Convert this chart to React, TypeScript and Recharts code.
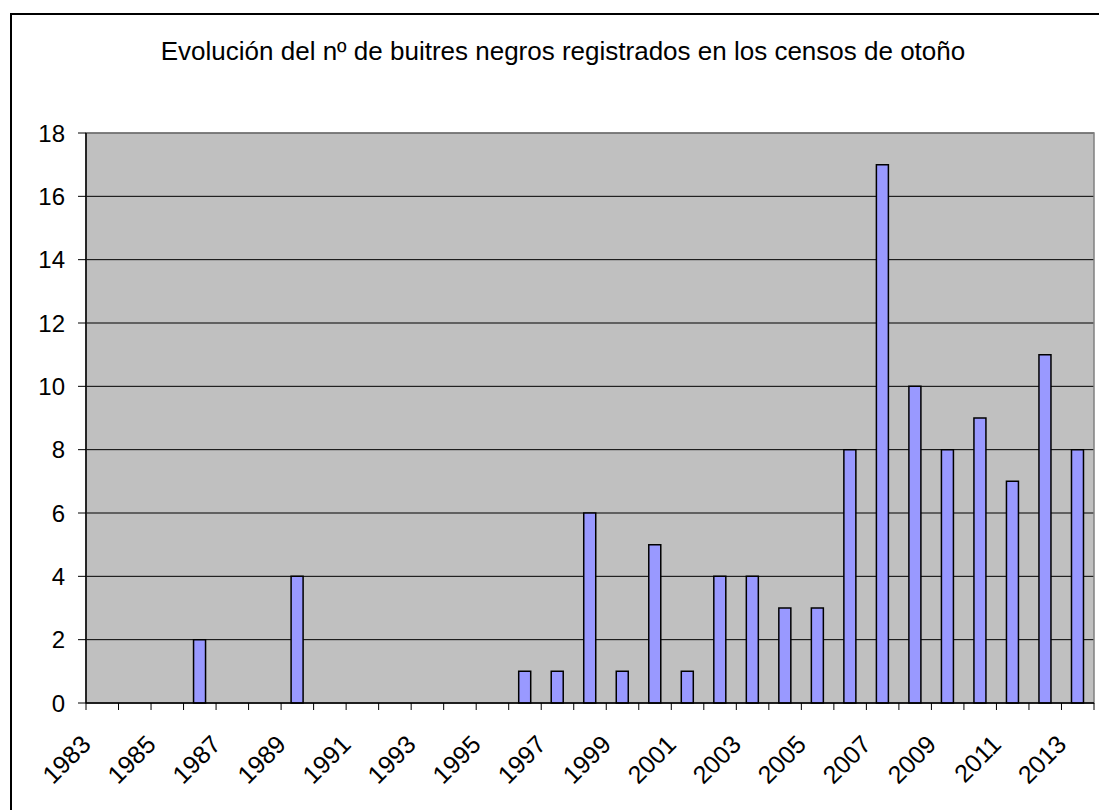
import React from 'react';
import { BarChart, Bar, XAxis, YAxis, CartesianGrid, ReferenceArea } from 'recharts';

const years = ['1983','1984','1985','1986','1987','1988','1989','1990','1991','1992','1993','1994','1995','1996','1997','1998','1999','2000','2001','2002','2003','2004','2005','2006','2007','2008','2009','2010','2011','2012','2013'];
const buitres: (number | null)[] = [null,null,null,2,null,null,4,null,null,null,null,null,null,1,1,6,1,5,1,4,4,3,3,8,17,10,8,9,7,11,8];
const yTicks = [0,2,4,6,8,10,12,14,16,18];
const title = 'Evolución del nº de buitres negros registrados en los censos de otoño';

const data = years.map((y, i) => ({ year: y, value: buitres[i] }));

const W = 1099;
const H = 810;
const PLOT_LEFT = 86;
const PLOT_RIGHT = 1094;
const PLOT_TOP = 133;
const PLOT_BOTTOM = 703;
const BAND = (PLOT_RIGHT - PLOT_LEFT) / years.length;
const FONT = '"Liberation Sans", Arial, sans-serif';

const XTick = (props: any) => {
  const { x, y, payload, index } = props;
  const half = BAND / 2;
  const lx = x - 10;
  const ly = y + 43;
  return (
    <g>
      <line x1={x - half} y1={y} x2={x - half} y2={y + 7} stroke="#000" strokeWidth={1} />
      {index === years.length - 1 && (
        <line x1={x + half} y1={y} x2={x + half} y2={y + 7} stroke="#000" strokeWidth={1} />
      )}
      {index % 2 === 0 && (
        <text x={lx} y={ly} transform={`rotate(-45, ${lx}, ${ly})`} textAnchor="end" fontSize={25} fontFamily={FONT} fill="#000">
          {payload.value}
        </text>
      )}
    </g>
  );
};

export default function App() {
  return (
    <div style={{ position: 'absolute', left: 0, top: 0, width: W, height: H, overflow: 'hidden', background: '#fff' }}>
      <div style={{ position: 'absolute', left: 10, top: 13, width: 1200, height: 900, border: '2px solid #000', boxSizing: 'border-box' }} />
      <svg style={{ position: 'absolute', left: 0, top: 0 }} width={W} height={100}>
        <text x={563} y={60} textAnchor="middle" fontSize={26} fontFamily={FONT} fill="#000">{title}</text>
      </svg>
      <div style={{ position: 'absolute', left: 0, top: 0 }}>
        <BarChart
          width={W}
          height={H}
          data={data}
          margin={{ top: PLOT_TOP, right: W - PLOT_RIGHT, bottom: H - PLOT_BOTTOM - 60, left: PLOT_LEFT - 60 }}
          barCategoryGap={0}
        >
          <CartesianGrid vertical={false} stroke="#000" strokeWidth={1} fill="#C0C0C0" fillOpacity={1} />
          <ReferenceArea y1={0} y2={18} fill="none" stroke="#808080" strokeWidth={1.5} ifOverflow="visible" />
          <XAxis
            dataKey="year"
            interval={0}
            height={60}
            tickSize={0}
            tickMargin={0}
            tickLine={false}
            axisLine={{ stroke: '#000', strokeWidth: 1.5 }}
            tick={<XTick />}
          />
          <YAxis
            width={60}
            domain={[0, 18]}
            ticks={yTicks}
            interval={0}
            tickSize={8}
            tickMargin={13}
            tickLine={{ stroke: '#000' }}
            axisLine={{ stroke: '#000', strokeWidth: 1.5 }}
            tick={{ fontSize: 24, fontFamily: FONT, fill: '#000' }}
          />
          <Bar dataKey="value" fill="#9999FF" stroke="#000" strokeWidth={1.5} barSize={12} isAnimationActive={false} />
        </BarChart>
      </div>
    </div>
  );
}
